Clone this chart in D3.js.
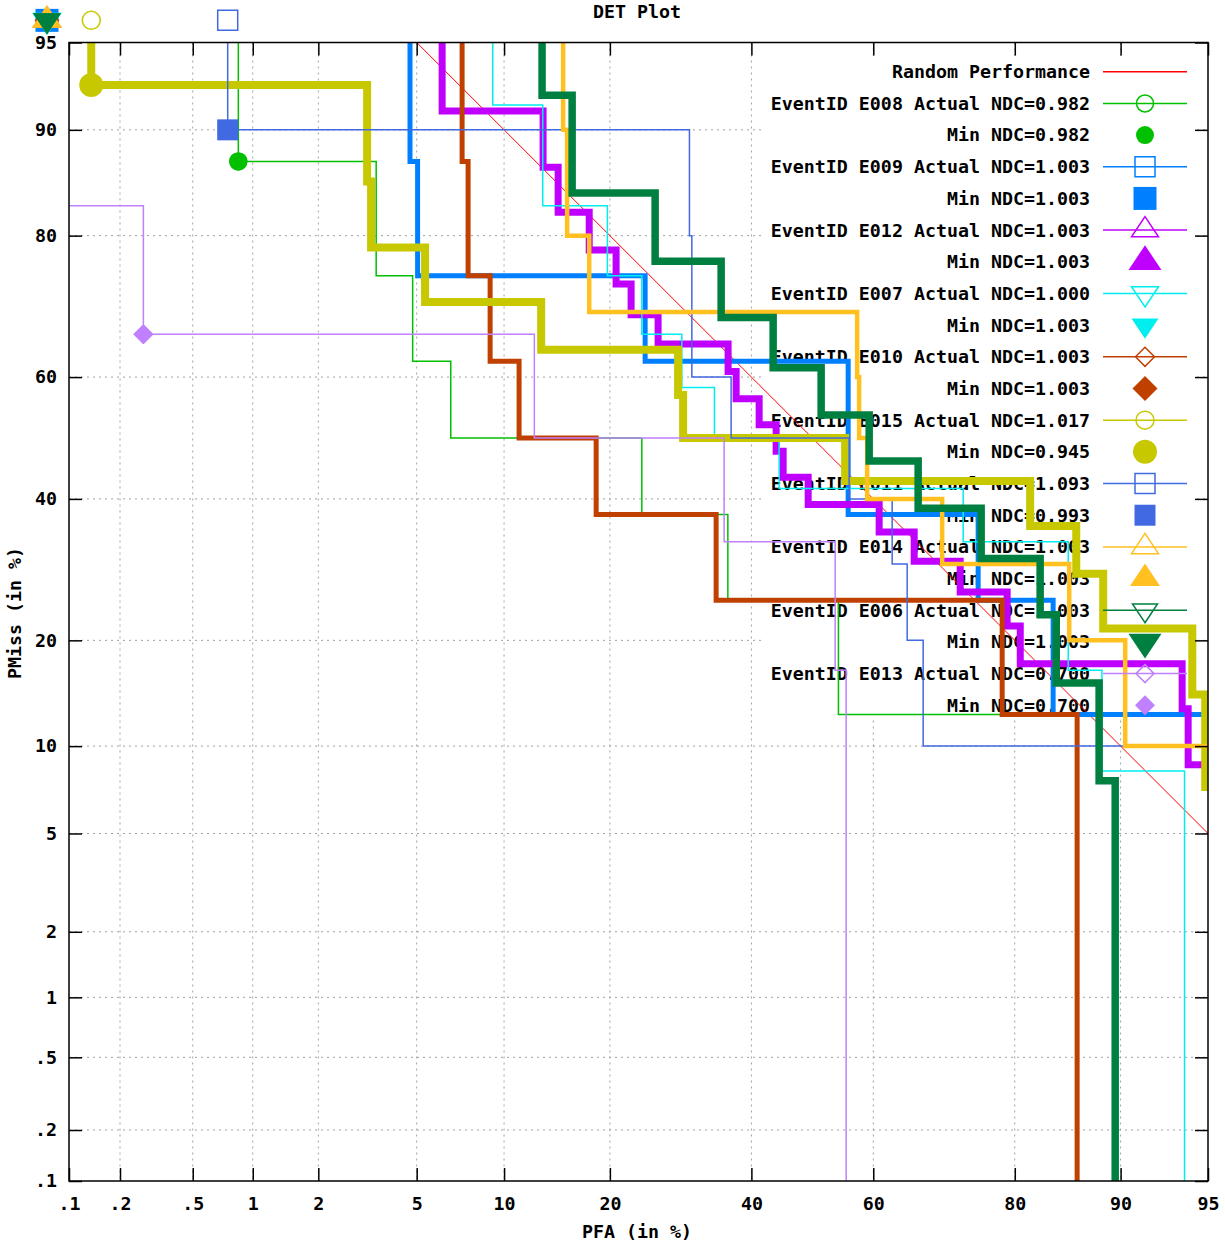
<!DOCTYPE html>
<html>
<head>
<meta charset="utf-8">
<script src="https://cdn.jsdelivr.net/npm/d3@7"></script>
<style>
  body { margin: 0; background: #fff; }
  svg text { font-family: 'DejaVu Sans Mono', monospace; font-weight: bold; font-size: 18.3px; fill: #000; }
</style>
</head>
<body>
<svg id="chart"></svg>
<script>
// tick positions (percent) on both axes and how they are printed
const tickValues = [0.1, 0.2, 0.5, 1, 2, 5, 10, 20, 40, 60, 80, 90, 95];
const tickLabels = ['.1', '.2', '.5', '1', '2', '5', '10', '20', '40', '60', '80', '90', '95'];

const eventIds  = ['E008', 'E009', 'E012', 'E007', 'E010', 'E015', 'E011', 'E014', 'E006', 'E013'];
const actualNdc = ['0.982', '1.003', '1.003', '1.000', '1.003', '1.017', '1.093', '1.003', '1.003', '0.700'];
const minNdc    = ['0.982', '1.003', '1.003', '1.003', '1.003', '0.945', '0.993', '1.003', '1.003', '0.700'];

// [PFA, PMiss] in percent
const randomLine = [[5, 95], [95, 5]];

// DET steps: at each PFA the curve drops to the given PMiss
const detE008 = [[0.851, 99.99], [0.851, 87.5], [3.49, 75.0], [4.83, 62.5], [6.64, 50.0], [23.92, 37.5], [36.27, 25.0], [54.32, 12.5], [86.4, 0.001]];
const detE009 = [[4.72, 99.99], [4.72, 87.5], [5.04, 75.0], [24.35, 62.5], [55.92, 37.5], [75.47, 25.0], [84.16, 12.5], [99.99, 12.5]];
const detE012 = [[6.19, 99.99], [6.19, 91.3], [13.15, 87.0], [14.53, 82.6], [17.68, 78.3], [20.73, 73.9], [22.56, 69.6], [26.07, 65.2],
                 [36.31, 60.9], [37.57, 56.5], [41.25, 52.2], [44.02, 47.8], [45.17, 43.5], [49.31, 39.1], [60.94, 34.8], [66.4, 30.4],
                 [73.06, 26.1], [79.1, 21.7], [80.63, 17.4], [93.79, 13.0], [94.09, 8.7], [99.99, 8.7]];
const detE007 = [[9.2, 99.99], [9.2, 91.7], [13.12, 83.3], [19.71, 75.0], [23.92, 66.7], [29.37, 58.3], [34.2, 50.0], [44.51, 41.7],
                 [73.47, 33.3], [85.63, 25.0], [85.63, 16.7], [88.57, 8.3], [93.91, 0.001]];
const detE010 = [[7.27, 99.99], [7.27, 87.5], [7.62, 75.0], [9.02, 62.5], [11.14, 50.0], [18.44, 37.5], [34.46, 25.0], [78.5, 12.5], [86.45, 0.001]];
const detE015 = [[0.136, 99.99], [0.136, 92.9], [3.21, 85.7], [3.33, 78.6], [5.37, 71.4], [12.98, 64.3], [28.84, 57.1], [29.56, 50.0],
                 [55.42, 42.9], [81.74, 35.7], [86.37, 28.6], [88.67, 21.4], [94.29, 14.3], [94.88, 7.1]];
const detE011 = [[0.754, 99.99], [0.754, 90.0], [30.47, 80.0], [30.82, 60.0], [36.78, 50.0], [56.08, 40.0], [63.0, 30.0], [65.33, 20.0], [67.75, 10.0], [99.99, 10.0]];
const detE014 = [[15.01, 99.99], [15.01, 90.0], [15.4, 80.0], [17.68, 70.0], [57.39, 60.0], [57.71, 50.0], [59.01, 40.0], [70.53, 30.0], [85.72, 20.0], [90.33, 10.0], [99.99, 10.0]];
const detE006 = [[13.06, 99.99], [13.06, 92.3], [15.9, 84.6], [25.67, 76.9], [35.23, 69.2], [43.53, 61.5], [51.46, 53.8], [59.34, 46.2],
                 [67.0, 38.5], [75.86, 30.8], [82.82, 23.1], [84.47, 15.4], [88.34, 7.7], [89.6, 0.001]];
const detE013 = [[0.01, 99.99], [0.01, 83.3], [0.271, 66.7], [12.39, 50.0], [35.69, 33.3], [53.78, 16.7], [55.59, 0.001]];

const detCurves = [detE008, detE009, detE012, detE007, detE010, detE015, detE011, detE014, detE006, detE013];

// operating points for actual and minimum NDC
const actualPoints = [[0.851, 87.5], [0.0732, 95.88], [0.0732, 95.88], [0.0732, 95.88], [0.0732, 95.88],
                      [0.136, 95.88], [0.754, 95.88], [0.0732, 95.88], [0.0732, 95.88], [0.271, 66.7]];
const minPoints    = [[0.851, 87.5], [0.0732, 95.88], [0.0732, 95.88], [0.0732, 95.88], [0.0732, 95.88],
                      [0.136, 92.9], [0.754, 90.0], [0.0732, 95.88], [0.0732, 95.88], [0.271, 66.7]];

// styles
const seriesColors = ['#00c000', '#0080ff', '#c000ff', '#00eeee', '#c04000', '#c8c800', '#4169e1', '#ffc020', '#008040', '#c080ff'];
const seriesWidths = [1.5, 5, 7, 1.5, 5, 8, 1.5, 4.5, 7.5, 1.5];
const seriesShapes = ['circle', 'square', 'triangle', 'invtriangle', 'diamond', 'circle', 'square', 'triangle', 'invtriangle', 'diamond'];
const actualSizes  = [8.5, 10, 13.5, 13.5, 9.5, 9, 10, 13.5, 12.5, 9];
const minSizes     = [9, 11.5, 13.5, 13.5, 12.5, 12, 10.5, 15, 14, 10];
const keyMinSizes  = [9, 11.5, 16.5, 13.5, 12.5, 12, 10.5, 15, 16.5, 10];

// inverse normal cdf (Acklam)
function probit(p) {
    const a = [-39.69683028665376, 220.9460984245205, -275.9285104469687, 138.3577518672690, -30.66479806614716, 2.506628277459239];
    const b = [-54.47609879822406, 161.5858368580409, -155.6989798598866, 66.80131188771972, -13.28068155288572];
    const c = [-0.007784894002430293, -0.3223964580411365, -2.400758277161838, -2.549732539343734, 4.374664141464968, 2.938163982698783];
    const d = [0.007784695709041462, 0.3224671290700398, 2.445134137142996, 3.754408661907416];
    const pl = 0.02425;
    let q, r;
    if (p < pl) {
        q = Math.sqrt(-2 * Math.log(p));
        return (((((c[0]*q + c[1])*q + c[2])*q + c[3])*q + c[4])*q + c[5]) / ((((d[0]*q + d[1])*q + d[2])*q + d[3])*q + 1);
    }
    if (p <= 1 - pl) {
        q = p - 0.5; r = q * q;
        return (((((a[0]*r + a[1])*r + a[2])*r + a[3])*r + a[4])*r + a[5])*q / (((((b[0]*r + b[1])*r + b[2])*r + b[3])*r + b[4])*r + 1);
    }
    q = Math.sqrt(-2 * Math.log(1 - p));
    return -(((((c[0]*q + c[1])*q + c[2])*q + c[3])*q + c[4])*q + c[5]) / ((((d[0]*q + d[1])*q + d[2])*q + d[3])*q + 1);
}

function markerPath(shape, s) {
    const h = 1.5 * s;
    switch (shape) {
        case 'circle': return `M${-s},0A${s},${s} 0 1,0 ${s},0A${s},${s} 0 1,0 ${-s},0Z`;
        case 'square': return `M${-s},${-s}H${s}V${s}H${-s}Z`;
        case 'triangle': return `M0,${-2 * h / 3}L${s},${h / 3}L${-s},${h / 3}Z`;
        case 'invtriangle': return `M0,${2 * h / 3}L${s},${-h / 3}L${-s},${-h / 3}Z`;
        default: return `M0,${-s}L${s},0L0,${s}L${-s},0Z`;
    }
}

class DetPlot {

    constructor(_config) {
        this.config = {
            parentElement: _config.parentElement,
            containerWidth: _config.containerWidth || 1225,
            containerHeight: _config.containerHeight || 1257,
            margin: {top: 42.5, right: 17, bottom: 76, left: 69},
            legend: {textRight: 1021, sampleLeft: 1034, sampleRight: 1118, top: 29.2, row: 31.68}
        };
        this.initVis();
    }

    initVis() {
        let vis = this;
        const m = vis.config.margin;

        vis.width = vis.config.containerWidth - m.left - m.right;
        vis.height = vis.config.containerHeight - m.top - m.bottom;

        vis.xScale = d3.scaleLinear()
            .domain([probit(0.001), probit(0.95)])
            .range([0, vis.width]);
        vis.yScale = d3.scaleLinear()
            .domain([probit(0.001), probit(0.95)])
            .range([vis.height, 0]);
        vis.x = pct => vis.xScale(probit(pct / 100));
        vis.y = pct => vis.yScale(probit(pct / 100));

        vis.svg = d3.select(vis.config.parentElement)
            .attr('width', vis.config.containerWidth)
            .attr('height', vis.config.containerHeight);

        vis.svg.append('rect')
            .attr('width', vis.config.containerWidth)
            .attr('height', vis.config.containerHeight)
            .attr('fill', '#fff');

        vis.svg.append('defs').append('clipPath')
            .attr('id', 'plot-clip')
            .append('rect')
            .attr('width', vis.width)
            .attr('height', vis.height);

        vis.chart = vis.svg.append('g')
            .attr('transform', `translate(${m.left},${m.top})`);

        vis.line = d3.line()
            .x(d => vis.x(d[0]))
            .y(d => vis.y(d[1]))
            .curve(d3.curveStepAfter);

        vis.renderVis();
    }

    rowY(i) {
        return this.config.legend.top + i * this.config.legend.row;
    }

    renderVis() {
        let vis = this;
        const lg = vis.config.legend;
        const inner = tickValues.slice(1, -1);

        // dotted grid
        const grid = vis.chart.append('g').attr('class', 'grid')
            .attr('stroke', '#a0a0a0')
            .attr('stroke-width', 1)
            .attr('stroke-dasharray', '2,4');
        grid.selectAll('.gx').data(inner).join('line')
            .attr('class', 'gx')
            .attr('x1', d => vis.x(d)).attr('x2', d => vis.x(d))
            .attr('y1', 0).attr('y2', vis.height);
        grid.selectAll('.gy').data(inner).join('line')
            .attr('class', 'gy')
            .attr('y1', d => vis.y(d)).attr('y2', d => vis.y(d))
            .attr('x1', 0).attr('x2', vis.width);

        // key box and labels
        vis.chart.append('rect')
            .attr('x', 696).attr('y', 13.5)
            .attr('width', 429).attr('height', 662)
            .attr('fill', '#fff');

        const labels = ['Random Performance'];
        eventIds.forEach((id, i) => {
            labels.push(`EventID ${id} Actual NDC=${actualNdc[i]}`);
            labels.push(`Min NDC=${minNdc[i]}`);
        });
        vis.chart.append('g').selectAll('text').data(labels).join('text')
            .attr('x', lg.textRight)
            .attr('y', (d, i) => vis.rowY(i))
            .attr('dy', '0.35em')
            .attr('text-anchor', 'end')
            .text(d => d);

        const plot = vis.chart.append('g').attr('clip-path', 'url(#plot-clip)');
        const marks = vis.chart.append('g');

        plot.append('path')
            .datum(randomLine)
            .attr('fill', 'none')
            .attr('stroke', '#ff0000')
            .attr('stroke-width', 1)
            .attr('d', d3.line().x(d => vis.x(d[0])).y(d => vis.y(d[1])));
        marks.append('line')
            .attr('x1', lg.sampleLeft).attr('x2', lg.sampleRight)
            .attr('y1', vis.rowY(0)).attr('y2', vis.rowY(0))
            .attr('stroke', '#ff0000').attr('stroke-width', 1.5);

        const midX = (lg.sampleLeft + lg.sampleRight) / 2;

        detCurves.forEach((curve, i) => {
            const color = seriesColors[i];
            const g = plot.append('g');
            g.append('path')
                .datum(curve)
                .attr('fill', 'none')
                .attr('stroke', color)
                .attr('stroke-width', seriesWidths[i])
                .attr('stroke-linejoin', 'miter')
                .attr('d', vis.line);

            const mg = marks.append('g');
            mg.append('path')
                .attr('transform', `translate(${vis.x(actualPoints[i][0])},${vis.y(actualPoints[i][1])})`)
                .attr('d', markerPath(seriesShapes[i], actualSizes[i]))
                .attr('fill', 'none')
                .attr('stroke', color)
                .attr('stroke-width', 1.5);
            mg.append('path')
                .attr('transform', `translate(${vis.x(minPoints[i][0])},${vis.y(minPoints[i][1])})`)
                .attr('d', markerPath(seriesShapes[i], minSizes[i]))
                .attr('fill', color);

            // key samples
            const ya = vis.rowY(2 * i + 1);
            const ym = vis.rowY(2 * i + 2);
            mg.append('line')
                .attr('x1', lg.sampleLeft).attr('x2', lg.sampleRight)
                .attr('y1', ya).attr('y2', ya)
                .attr('stroke', color).attr('stroke-width', 1.5);
            mg.append('path')
                .attr('transform', `translate(${midX},${ya})`)
                .attr('d', markerPath(seriesShapes[i], actualSizes[i]))
                .attr('fill', 'none')
                .attr('stroke', color)
                .attr('stroke-width', 1.5);
            mg.append('path')
                .attr('transform', `translate(${midX},${ym})`)
                .attr('d', markerPath(seriesShapes[i], keyMinSizes[i]))
                .attr('fill', color);
        });

        // axes with inward ticks on all four sides
        const tv = tickValues.map(v => probit(v / 100));
        const fmt = (d, i) => tickLabels[i];

        const axes = [
            {axis: d3.axisBottom(vis.xScale).tickFormat(fmt).tickPadding(16), t: `translate(0,${vis.height})`},
            {axis: d3.axisLeft(vis.yScale).tickFormat(fmt).tickPadding(12), t: 'translate(0,0)'},
            {axis: d3.axisTop(vis.xScale).tickFormat(''), t: 'translate(0,0)'},
            {axis: d3.axisRight(vis.yScale).tickFormat(''), t: `translate(${vis.width},0)`}
        ];
        axes.forEach(a => {
            vis.chart.append('g')
                .attr('transform', a.t)
                .call(a.axis.tickValues(tv).tickSizeInner(-13).tickSizeOuter(0))
                .call(g => g.select('.domain').remove())
                .call(g => g.selectAll('line').attr('stroke', '#000').attr('stroke-width', 1.5));
        });

        vis.chart.append('rect')
            .attr('width', vis.width)
            .attr('height', vis.height)
            .attr('fill', 'none')
            .attr('stroke', '#000')
            .attr('stroke-width', 1.5);

        vis.svg.append('text')
            .attr('x', 637).attr('y', 18)
            .attr('text-anchor', 'middle')
            .text('DET Plot');
        vis.svg.append('text')
            .attr('x', 637).attr('y', 1238)
            .attr('text-anchor', 'middle')
            .text('PFA (in %)');
        vis.svg.append('text')
            .attr('transform', 'translate(21,613) rotate(-90)')
            .attr('text-anchor', 'middle')
            .text('PMiss (in %)');
    }
}

new DetPlot({parentElement: '#chart'});
</script>
</body>
</html>
